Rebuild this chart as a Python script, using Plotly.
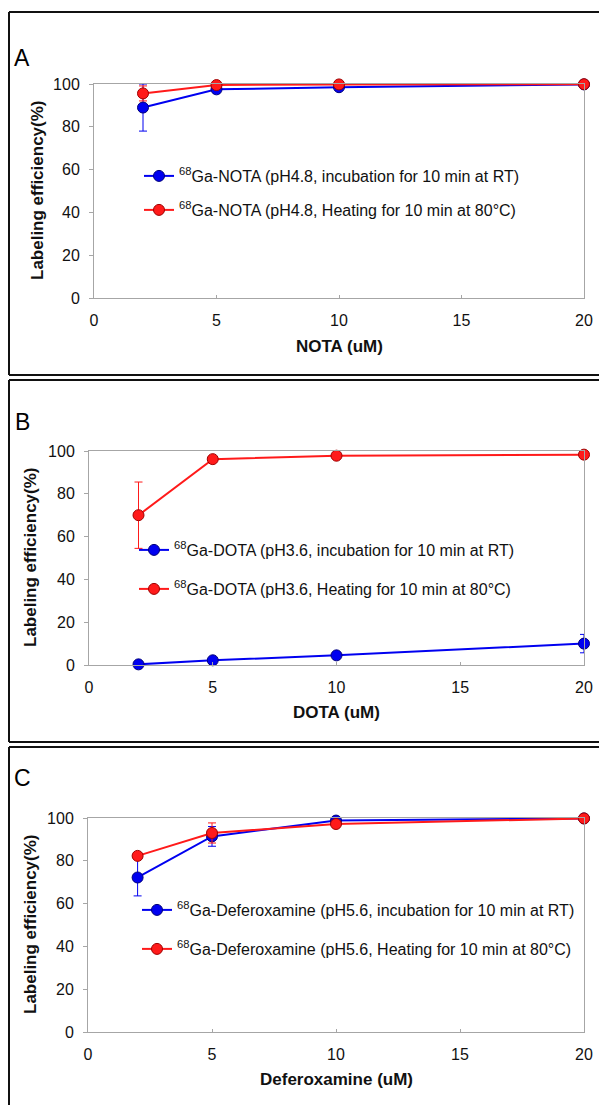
import plotly.graph_objects as go

W, H = 599, 1105

# ---- data ----
conc = [2, 5, 10, 20]

nota_rt = [89.0, 97.5, 98.5, 99.8]
nota_rt_err = [11.0, 0.8, 0.5, 0.2]
nota_heat = [95.6, 99.5, 99.8, 99.9]
nota_heat_err = [3.5, 0.4, 0.3, 0.1]

dota_rt = [0.3, 2.2, 4.5, 10.0]
dota_rt_err = [0.2, 0.5, 0.8, 4.3]
dota_heat = [70.0, 96.2, 97.8, 98.3]
dota_heat_err = [15.5, 0.5, 0.4, 0.3]

dfo_rt = [72.2, 91.4, 98.8, 99.8]
dfo_rt_err = [8.6, 4.6, 0.5, 0.2]
dfo_heat = [82.3, 93.0, 97.2, 99.8]
dfo_heat_err = [1.0, 4.7, 0.6, 0.2]

x_ticks = [0, 5, 10, 15, 20]
y_ticks = [0, 20, 40, 60, 80, 100]

panel_letters = ["A", "B", "C"]
x_titles = ["NOTA (uM)", "DOTA (uM)", "Deferoxamine (uM)"]
y_title = "Labeling efficiency(%)"
legend_rt = [
    "<sup>68</sup>Ga-NOTA (pH4.8, incubation for 10 min at RT)",
    "<sup>68</sup>Ga-DOTA (pH3.6, incubation for 10 min at RT)",
    "<sup>68</sup>Ga-Deferoxamine (pH5.6, incubation for 10 min at RT)",
]
legend_heat = [
    "<sup>68</sup>Ga-NOTA (pH4.8, Heating for 10 min at 80°C)",
    "<sup>68</sup>Ga-DOTA (pH3.6, Heating for 10 min at 80°C)",
    "<sup>68</sup>Ga-Deferoxamine (pH5.6, Heating for 10 min at 80°C)",
]

# ---- layout geometry (pixels) ----
FONT = "Liberation Sans, Arial, sans-serif"
BLUE, BLUE_EDGE = "#0000F0", "#00007A"
RED, RED_EDGE = "#FF1A1A", "#A00000"
AXIS_COL = "#A6A6A6"
TXT = "#111111"

def fx(px):
    return px / W

def fy(py):
    return 1 - py / H

panels = [
    dict(x0=94, x1=584, ytop=84, ybot=298, box=(9, 12, 375), letter=(22, 58),
         ytitle_x=37, xtitle_y=346, leg=((139, 176), (139, 210)),
         rt=nota_rt, rte=nota_rt_err, ht=nota_heat, hte=nota_heat_err),
    dict(x0=89, x1=584, ytop=451, ybot=665, box=(9, 380, 742), letter=(22, 422),
         ytitle_x=30, xtitle_y=712, leg=((134, 550), (134, 589)),
         rt=dota_rt, rte=dota_rt_err, ht=dota_heat, hte=dota_heat_err),
    dict(x0=88, x1=584, ytop=818, ybot=1032, box=(9, 747, None), letter=(22, 778),
         ytitle_x=30, xtitle_y=1079, leg=((137, 910), (137, 949)),
         rt=dfo_rt, rte=dfo_rt_err, ht=dfo_heat, hte=dfo_heat_err),
]

fig = go.Figure()
layout = dict(
    autosize=True,
    margin=dict(l=0, r=0, t=0, b=0, autoexpand=False),
    paper_bgcolor="white", plot_bgcolor="white",
    font=dict(family=FONT, size=16, color=TXT),
    showlegend=True,
)
annotations = []
shapes = []

def seg(x0, y0, x1, y1):
    return dict(type="line", xref="paper", yref="paper",
                x0=fx(x0), y0=fy(y0), x1=fx(x1), y1=fy(y1),
                line=dict(color="#111111", width=2))

for i, p in enumerate(panels):
    n = "" if i == 0 else str(i + 1)
    xa, ya = "x" + n, "y" + n
    common = dict(showgrid=False, zeroline=False, showline=True, linecolor=AXIS_COL,
                  linewidth=1, mirror=True, tickcolor=AXIS_COL,
                  tickfont=dict(family=FONT, size=16, color=TXT))
    layout["xaxis" + n] = dict(domain=[fx(p["x0"]), fx(p["x1"])], range=[0, 20],
                               tickvals=x_ticks, ticks="inside", ticklen=3,
                               ticklabelstandoff=8, anchor=ya, **common)
    layout["yaxis" + n] = dict(domain=[fy(p["ybot"]), fy(p["ytop"])], range=[0, 100],
                               tickvals=y_ticks, ticks="outside", ticklen=4,
                               ticklabelstandoff=6, anchor=xa, **common)
    leg_rt = "legend" if i == 0 else "legend" + str(2 * i + 1)
    leg_ht = "legend" + str(2 * i + 2)
    for (vals, errs, col, edge, name, legname, legpos) in [
        (p["rt"], p["rte"], BLUE, BLUE_EDGE, legend_rt[i], leg_rt, p["leg"][0]),
        (p["ht"], p["hte"], RED, RED_EDGE, legend_heat[i], leg_ht, p["leg"][1]),
    ]:
        fig.add_trace(go.Scatter(
            x=conc, y=vals, mode="lines+markers", name=name,
            xaxis=xa, yaxis=ya, cliponaxis=False, legend=legname,
            line=dict(color=col, width=2),
            marker=dict(color=col, size=11, line=dict(color=edge, width=1)),
            error_y=dict(type="data", array=errs, visible=True, color=col,
                         thickness=1, width=4),
        ))
        layout[legname] = dict(x=fx(legpos[0]), y=fy(legpos[1]), xanchor="left",
                               yanchor="middle", bgcolor="rgba(0,0,0,0)",
                               borderwidth=0, itemwidth=30,
                               font=dict(family=FONT, size=16, color=TXT))
    # panel border (right edge lies outside the picture)
    bx, by0, by1 = p["box"]
    shapes.append(seg(bx, by0, W, by0))
    if by1 is None:
        shapes.append(seg(bx, by0, bx, H))
    else:
        shapes.append(seg(bx, by0, bx, by1))
        shapes.append(seg(bx, by1, W, by1))
    # letters and titles
    annotations.append(dict(text=panel_letters[i], x=fx(p["letter"][0]), y=fy(p["letter"][1]),
                            xref="paper", yref="paper", showarrow=False,
                            xanchor="center", yanchor="middle",
                            font=dict(family=FONT, size=23, color="#000000")))
    annotations.append(dict(text="<b>" + x_titles[i] + "</b>",
                            x=fx((p["x0"] + p["x1"]) / 2), y=fy(p["xtitle_y"]),
                            xref="paper", yref="paper", showarrow=False,
                            xanchor="center", yanchor="middle",
                            font=dict(family=FONT, size=17, color=TXT)))
    annotations.append(dict(text="<b>" + y_title + "</b>", textangle=-90,
                            x=fx(p["ytitle_x"]), y=fy((p["ytop"] + p["ybot"]) / 2),
                            xref="paper", yref="paper", showarrow=False,
                            xanchor="center", yanchor="middle",
                            font=dict(family=FONT, size=17, color=TXT)))

layout["annotations"] = annotations
layout["shapes"] = shapes
fig.update_layout(**layout)

page_fix = (
    "var h=document.documentElement, b=document.body;"
    "h.style.margin='0';h.style.padding='0';h.style.overflow='hidden';"
    "b.style.margin='0';b.style.padding='0';b.style.overflow='hidden';"
    "var d=document.getElementById('{plot_id}');"
    "d.style.position='fixed';d.style.left='0px';d.style.top='0px';"
)
fig.write_html("out.html", config={"displayModeBar": False, "responsive": True},
               default_width="100vw", default_height="100vh", post_script=page_fix)
